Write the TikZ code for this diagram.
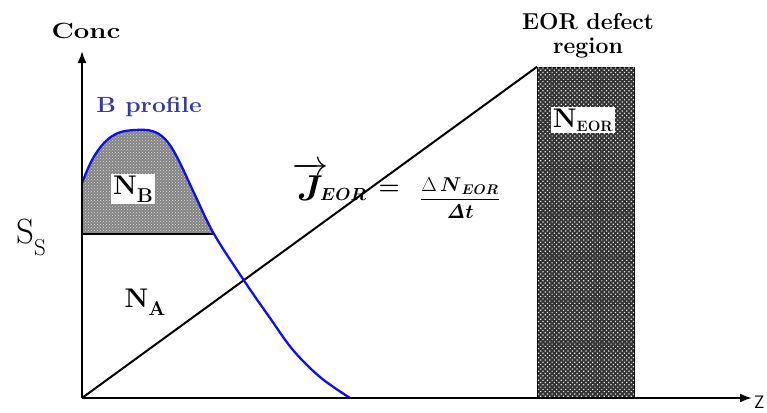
\RequirePackage{fix-cm}
\documentclass[tikz,border=0pt]{standalone}
\usepackage{amsmath}
\usetikzlibrary{arrows.meta,patterns,patterns.meta}
\definecolor{bprof}{RGB}{55,55,165}
\definecolor{bcurve}{RGB}{15,15,235}
\newcommand{\lblsub}[2]{#1\raisebox{-8pt}{\fontsize{20}{20}\selectfont #2}}
\tikzset{
  axisline/.style={line width=2pt,-{Latex[length=12pt,width=9pt]}},
  plainline/.style={line width=2pt},
  biglbl/.style={font=\bfseries\fontsize{27}{30}\selectfont, inner sep=2pt},
  headlbl/.style={font=\bfseries\fontsize{23}{24}\selectfont, align=center, inner sep=0pt},
  widetext/.style={transform shape, xscale=#1},
  nbfill/.style={fill=black!48, postaction={pattern=crosshatch dots, pattern color=white!85!black}},
  eorfill/.style={draw, line width=1.2pt, fill=black!80, postaction={pattern={Dots[distance=3.2pt, angle=45, radius=0.85pt]}, pattern color=white!90!black}},
}
\begin{document}
\begin{tikzpicture}[x=1pt,y=-1pt]
\useasboundingbox (0,0) rectangle (767,412);
\coordinate (O) at (82,398);
\coordinate (Ytop) at (82,51);
\coordinate (Xend) at (752,398);
\coordinate (SsL) at (82,234);
\coordinate (SsR) at (214,234);

% shaded N_B region
\begin{scope}
  \clip (82,0) rectangle (400,234);
  \path[nbfill] plot[smooth,tension=0.6] coordinates {(82,183) (92,160) (104,143) (118,133) (135,130) (152,131) (165,139) (177,157) (195,195) (214,234) (245,282) (270,318) (293,350) (320,377) (350,398)} -- (82,398) -- cycle;
\end{scope}

% EOR region
\node[eorfill, minimum width=97pt, minimum height=330pt, anchor=south west, inner sep=0pt] (eor) at (537,398) {};

% diagonal
\draw[plainline] (O) -- (eor.north west);
% S_S line
\draw[plainline] (SsL) -- (SsR);

% B profile curve
\draw[bcurve, line width=2.3pt] plot[smooth,tension=0.6] coordinates {(82,183) (92,160) (104,143) (118,133) (135,130) (152,131) (165,139) (177,157) (195,195) (214,234) (245,282) (270,318) (293,350) (320,377) (350,398)};

% axes
\draw[axisline] (O) -- (Ytop);
\draw[axisline] (O) -- (Xend);

% labels
\node[font=\bfseries\fontsize{22}{24}\selectfont, widetext=1.25] (conc) at (86,30.5) {Conc};
\node[font=\bfseries\fontsize{22}{24}\selectfont, text=bprof, widetext=1.12] (bp) at (149,107) {B profile};
\node[biglbl, fill=white] (nb) at (133,189) {\lblsub{N}{B}};
\node[biglbl] (na) at (145,302) {\lblsub{N}{A}};
\node[biglbl, fill=white] (neor) at (583,120) {N{\fontsize{15}{15}\selectfont\raisebox{-4pt}{EOR}}};
\node[headlbl] (eorlbl) at (588,35.5) {EOR defect\\region};
\node[font=\fontsize{35}{35}\selectfont, inner sep=0pt] (ss) at (31,237) {S\raisebox{-12pt}{\fontsize{23}{23}\selectfont S}};
\node[anchor=base west, font=\sffamily\fontsize{18}{18}\selectfont, inner sep=0pt] (z) at (754,408) {Z};

% formula
\node[anchor=base, inner sep=0pt] (J) at (310,200) {\fontsize{36}{38}\selectfont$\overrightarrow{\boldsymbol{J}}$};
\node[anchor=base west, inner sep=0pt] (jsub) at (320,200) {\fontsize{17.5}{20}\selectfont$\boldsymbol{EOR}$};
\node[inner sep=0pt] (eq) at (389,190) {\fontsize{24}{24}\selectfont$\boldsymbol{=}$};
\node[inner sep=0pt] (frac) at (460,198) {\fontsize{20}{24}\selectfont$\dfrac{\Delta\,\boldsymbol{N}_{\boldsymbol{EOR}}}{\boldsymbol{\mathit{\Delta} t}}$};
\end{tikzpicture}
\end{document}
